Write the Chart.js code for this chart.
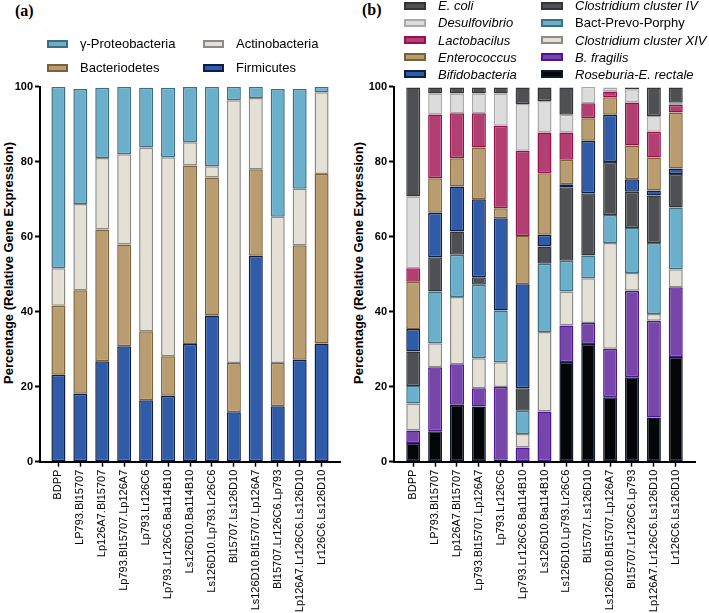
<!DOCTYPE html>
<html>
<head>
<meta charset="utf-8">
<script src="https://cdn.jsdelivr.net/npm/chart.js@4.4.1/dist/chart.umd.min.js"></script>
<style>
  html, body { margin: 0; padding: 0; background: #fff; }
  #wrap { position: relative; width: 709px; height: 613px; overflow: hidden;
          font-family: Arial, 'Liberation Sans', Helvetica, sans-serif; color: #000; }
  canvas { position: absolute; top: 0; }
  .tag { position: absolute; font: bold 16px 'Liberation Serif', 'Times New Roman', serif; }
  .ytitle { position: absolute; white-space: nowrap; font-weight: bold; font-size: 13px;
            transform: translate(-50%, -50%) rotate(-90deg); }
  .lg-item { position: absolute; height: 16px; display: flex; align-items: center;
             font-size: 13px; white-space: nowrap; }
  .lg-sw { box-sizing: border-box; height: 8px; border: 2px solid; }
</style>
</head>
<body>
<div id="wrap">
  <div class="tag" style="left:15px;top:2px;">(a)</div>
  <div class="tag" style="left:362px;top:1px;">(b)</div>
  <div class="ytitle" style="left:8px;top:263px;">Percentage (Relative Gene Expression)</div>
  <div class="ytitle" style="left:358px;top:263px;">Percentage (Relative Gene Expression)</div>
  <canvas id="chartA" width="350" height="613" style="left:0;"></canvas>
  <canvas id="chartB" width="359" height="613" style="left:350px;"></canvas>
</div>
<script>
'use strict';

/* ── categories (same for both panels) ── */
const groups = [
    'BDPP', 'LP793.Bl15707', 'Lp126A7.Bl15707', 'Lp793.Bl15707.Lp126A7',
    'Lp793.Lr126C6', 'Lp793.Lr126C6.Ba114B10', 'Ls126D10.Ba114B10',
    'Ls126D10.Lp793.Lr26C6', 'Bl15707.Ls126D10', 'Ls126D10.Bl15707.Lp126A7',
    'Bl15707.Lr126C6.Lp793', 'Lp126A7.Lr126C6.Ls126D10', 'Lr126C6.Ls126D10'
];
const yTicks = [0, 20, 40, 60, 80, 100];

/* ── panel (a): phyla, % (bottom → top) ── */
const firmicutes     = [23.2, 18.1, 26.8, 30.8, 16.4, 17.6, 31.4, 39.0, 13.2, 54.9, 14.8, 27.2, 31.5];
const bacteriodetes  = [18.4, 27.6, 35.1, 27.1, 18.4, 10.5, 47.6, 36.8, 13.1, 23.1, 11.5, 30.5, 45.2];
const actinobacteria = [10.0, 23.0, 19.1, 24.1, 49.0, 53.1,  6.2,  3.0, 70.1, 19.0, 39.0, 15.1, 21.8];
const proteobacteria = [48.4, 30.7, 18.7, 18.0, 15.9, 18.5, 14.7, 21.2,  3.6,  3.0, 34.1, 26.6,  1.5];

/* ── panel (b): genera / clusters, % (bottom → top) ── */
const roseburia   = [ 5.0,  8.1, 15.2, 14.7,  0.5,  0.0,  0.0, 26.6, 31.4, 17.2, 22.5, 11.8, 27.9];
const bFragilis   = [ 3.3, 17.1, 10.8,  4.9, 19.4,  3.8, 13.4,  9.7,  5.6, 12.9, 23.1, 25.8, 18.6];
const clostXIV    = [ 7.2,  6.4, 17.9,  8.0,  6.6,  3.6, 21.2,  9.1, 11.9, 28.2,  4.7,  1.8,  4.8];
const bactPrevo   = [ 4.7, 13.8, 11.3, 19.6, 13.8,  6.2, 18.2,  8.2,  6.1,  7.5, 12.0, 18.9, 16.5];
const clostIV     = [ 9.2,  9.1,  6.2,  2.0,  0.0,  6.0,  4.6, 19.6, 16.6, 14.1,  9.7, 12.7,  8.9];
const bifido      = [ 6.0, 11.9, 12.0, 20.8, 24.6, 27.7,  3.1,  0.8, 14.0, 12.6,  3.3,  1.3,  1.5];
const enterococ   = [12.6,  9.2,  7.5, 13.8,  2.7, 12.9, 16.4,  6.5,  6.0,  4.7,  9.0,  8.8, 14.9];
const lactobac    = [ 3.6, 17.0, 12.0,  9.1, 22.0, 22.7, 10.9,  7.3,  4.0,  1.5, 11.5,  6.9,  2.0];
const desulfo     = [19.1,  5.6,  5.3,  5.3,  8.6, 12.5,  8.4,  4.7,  4.4,  1.1,  3.5,  4.2,  0.6];
const ecoli       = [29.1,  1.6,  1.6,  1.6,  1.6,  4.4,  3.6,  7.3,  0.0,  0.0,  0.5,  7.6,  4.1];

/* ── colours ── */
const C = {
    blue:   ['#6AAFCB', '#3F6E80'],
    beige:  ['#E4E0D6', '#8C8A85'],
    tan:    ['#B99D70', '#7B6236'],
    navy:   ['#2F5BA8', '#0E1F45'],
    dgray:  ['#4E5054', '#323437'],
    lgray:  ['#DCDCDC', '#A9A9A9'],
    pink:   ['#B23F72', '#9A0E4B'],
    purple: ['#7746A9', '#4B1499'],
    black:  ['#040507', '#0C1B2D']
};

const seriesA = [
    { label: 'Firmicutes',        data: firmicutes,     col: C.navy  },
    { label: 'Bacteriodetes',     data: bacteriodetes,  col: C.tan   },
    { label: 'Actinobacteria',    data: actinobacteria, col: C.beige },
    { label: 'γ-Proteobacteria',  data: proteobacteria, col: C.blue  }
];
const seriesB = [
    { label: 'Roseburia-E. rectale',    data: roseburia, col: C.black,  italic: true },
    { label: 'B. fragilis',             data: bFragilis, col: C.purple, italic: true },
    { label: 'Clostridium cluster XIV', data: clostXIV,  col: C.beige,  italic: true },
    { label: 'Bact-Prevo-Porphy',       data: bactPrevo, col: C.blue,   italic: false },
    { label: 'Clostridium cluster IV',  data: clostIV,   col: C.dgray,  italic: true },
    { label: 'Bifidobacteria',          data: bifido,    col: C.navy,   italic: true },
    { label: 'Enterococcus',            data: enterococ, col: C.tan,    italic: true },
    { label: 'Lactobacilus',            data: lactobac,  col: C.pink,   italic: true },
    { label: 'Desulfovibrio',           data: desulfo,   col: C.lgray,  italic: true },
    { label: 'E. coli',                 data: ecoli,     col: C.dgray,  italic: true }
];

/* ── category scale that leaves a small gap next to the axes (Prism look) ── */
const CategoryBase = Chart.CategoryScale || Chart.registry.getScale('category');
class GappedCategoryScale extends CategoryBase {
    configure() {
        super.configure();
        const gap = this.options.edgeGap || 0;
        this._startValue -= gap;
        this._valueRange += gap * 2;
    }
}
GappedCategoryScale.id = 'gappedCategory';
Chart.register(GappedCategoryScale);

const FONT = "Arial, 'Liberation Sans', Helvetica, sans-serif";

function buildChart(canvasId, series, opt) {
    const datasets = series.map(s => ({
        label: s.label,
        data: s.data,
        backgroundColor: s.col[0],
        borderColor: s.col[1],
        borderWidth: 1.5,
        borderSkipped: false,
        barPercentage: 0.64,
        categoryPercentage: 1
    }));

    return new Chart(document.getElementById(canvasId), {
        type: 'bar',
        data: { labels: groups, datasets },
        options: {
            responsive: false,
            animation: false,
            layout: { padding: { top: 86.7, right: opt.right, left: 0, bottom: 0 } },
            plugins: { legend: { display: false }, tooltip: { enabled: false } },
            scales: {
                x: {
                    type: 'gappedCategory',
                    edgeGap: opt.gap,
                    stacked: true,
                    offset: true,
                    afterFit: s => { s.height = 613 - 461.7; },
                    grid: { offset: false, drawOnChartArea: false, drawTicks: true,
                            tickLength: 5, tickColor: '#000', tickWidth: 1.5 },
                    border: { display: true, color: '#000', width: 2 },
                    ticks: { autoSkip: false, minRotation: 90, maxRotation: 90, padding: 3,
                             color: '#000', font: { family: FONT, size: 11 } }
                },
                y: {
                    stacked: true,
                    min: 0, max: 100,
                    afterFit: s => { s.width = opt.yWidth; },
                    afterBuildTicks: s => { s.ticks = yTicks.map(v => ({ value: v })); },
                    grid: { drawOnChartArea: false, drawTicks: true, tickLength: 5,
                            tickColor: '#000', tickWidth: 2 },
                    border: { display: true, color: '#000', width: 2 },
                    ticks: { padding: 2, color: '#000', font: { family: FONT, size: 11, weight: 'bold' } }
                }
            }
        }
    });
}

/* ── HTML legends, built from the same series (top of stack first) ── */
function buildLegend(series, layout) {
    const wrap = document.getElementById('wrap');
    const items = series.slice().reverse();
    items.forEach((s, i) => {
        const col = layout.byColumn ? Math.floor(i / layout.rows.length) : i % layout.cols.length;
        const row = layout.byColumn ? i % layout.rows.length : Math.floor(i / layout.cols.length);
        const el = document.createElement('div');
        el.className = 'lg-item';
        el.style.left = layout.cols[col] + 'px';
        el.style.top  = (layout.rows[row] - 8) + 'px';
        const sw = document.createElement('span');
        sw.className = 'lg-sw';
        sw.style.width = layout.swW + 'px';
        sw.style.marginRight = layout.gap + 'px';
        sw.style.background = s.col[0];
        sw.style.borderColor = s.col[1];
        const tx = document.createElement('span');
        tx.textContent = s.label;
        if (s.italic) tx.style.fontStyle = 'italic';
        el.appendChild(sw); el.appendChild(tx);
        wrap.appendChild(el);
    });
}

buildChart('chartA', seriesA, { right: 10, yWidth: 40, gap: 0.17 });
buildChart('chartB', seriesB, { right: 14, yWidth: 44, gap: 0.19 });

buildLegend(seriesA, { cols: [47, 203], rows: [43.5, 67.7], swW: 21, gap: 12, byColumn: false });
buildLegend(seriesB, { cols: [404, 541], rows: [5.5, 22.7, 40, 57.3, 74], swW: 22, gap: 12, byColumn: true });
</script>
</body>
</html>
